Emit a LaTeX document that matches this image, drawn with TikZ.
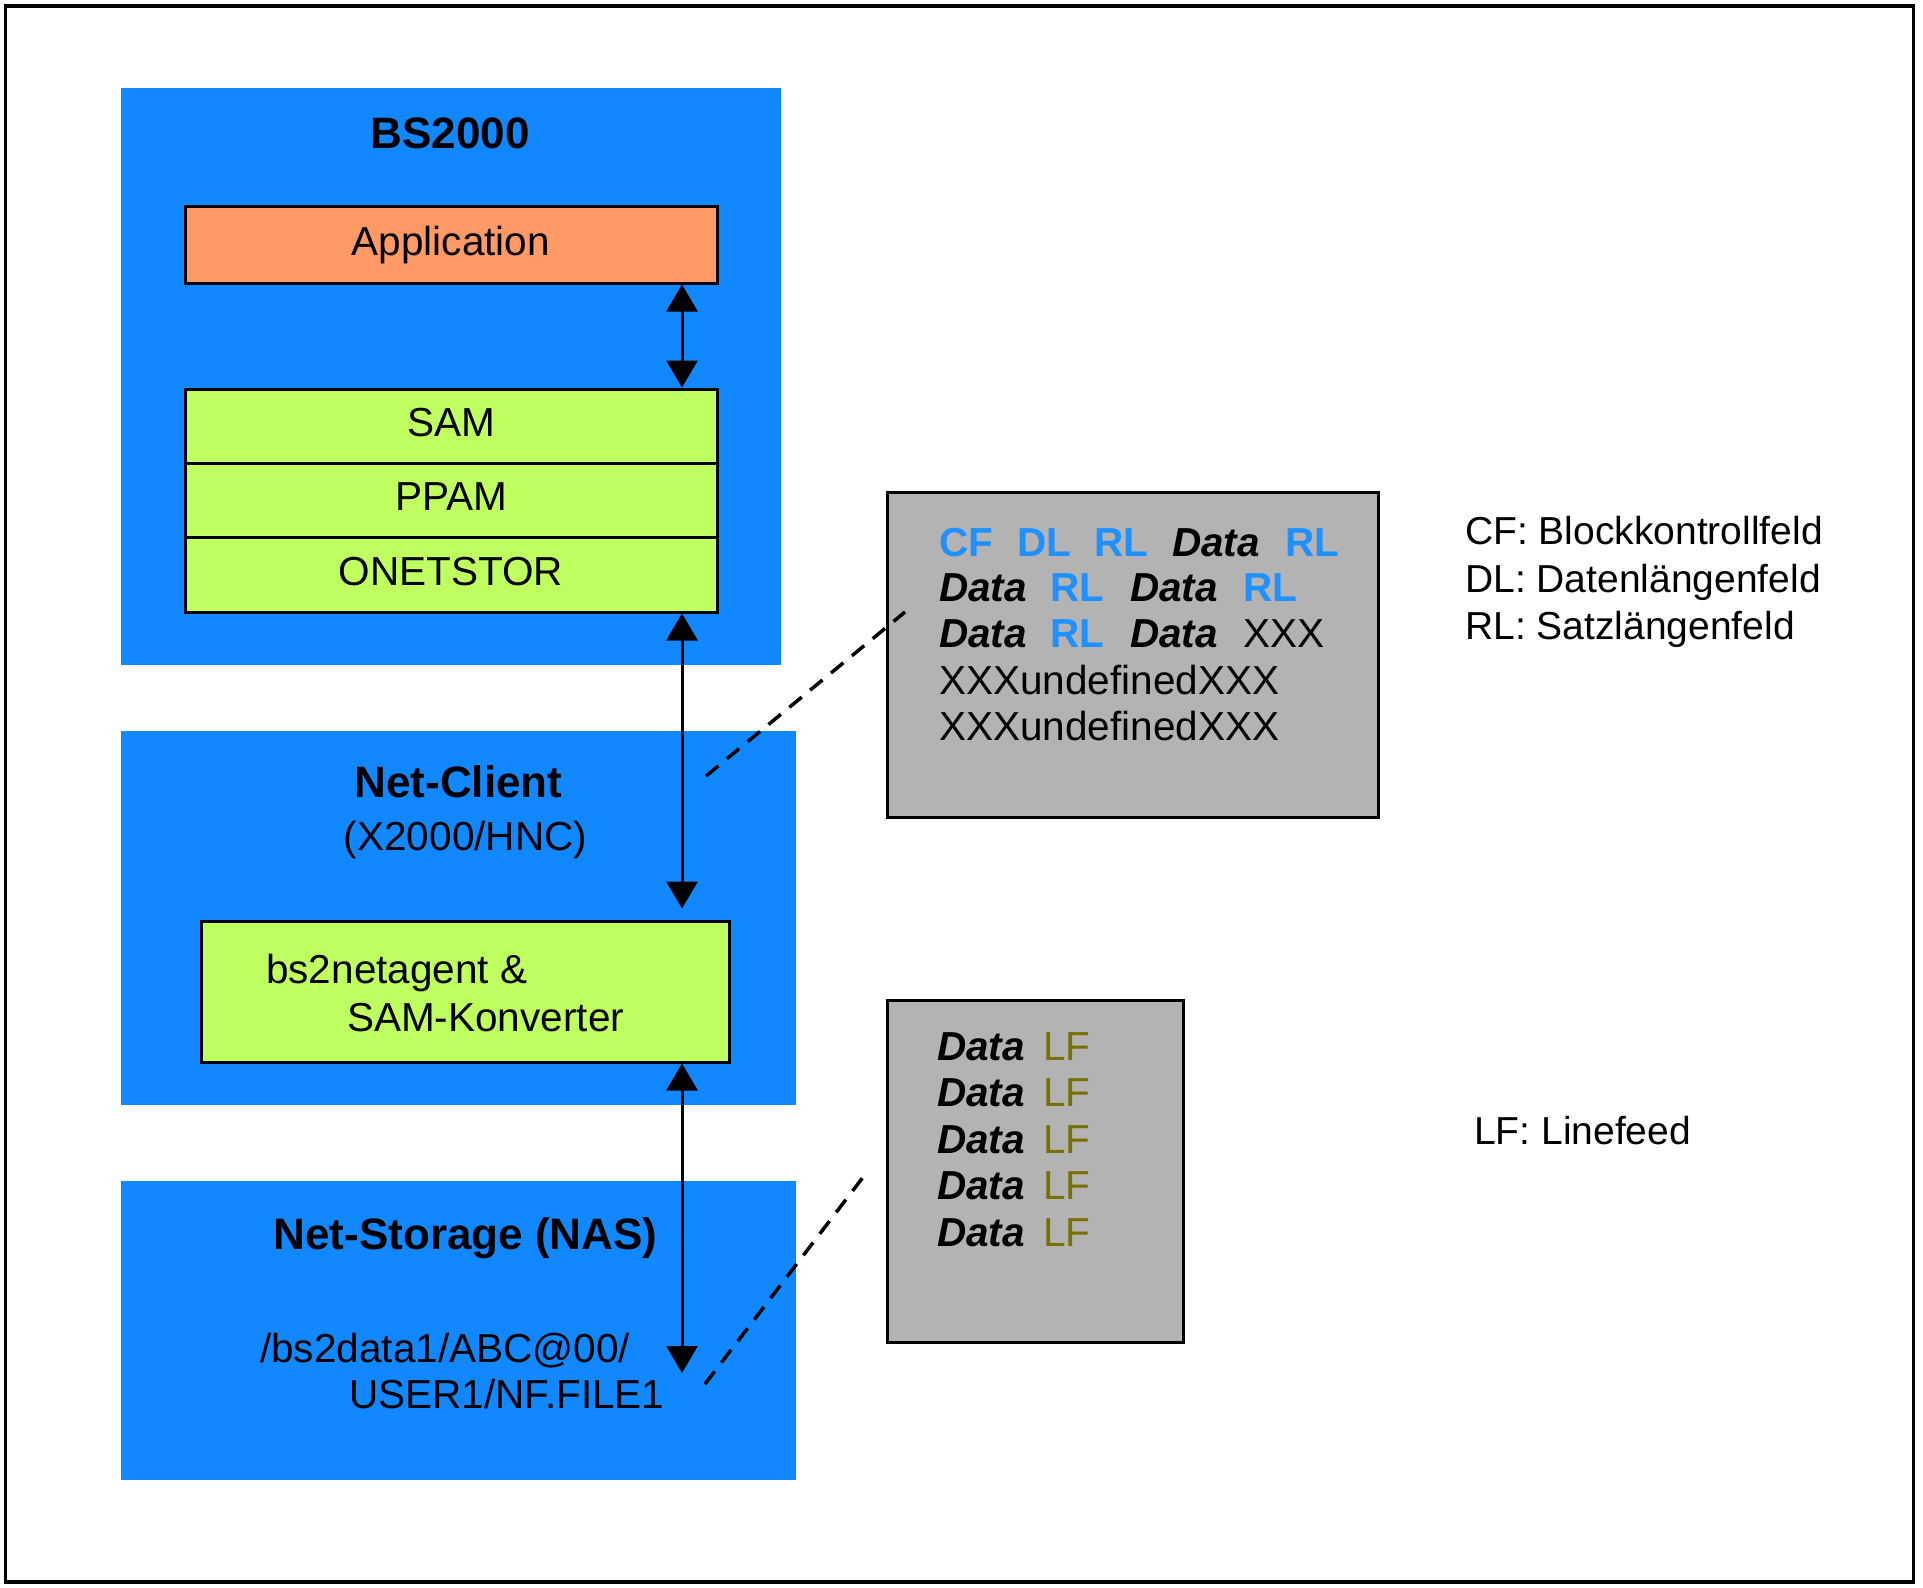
\documentclass[tikz,border=0pt]{standalone}
\usepackage{fontspec}
\setmainfont{Liberation Sans}
\usetikzlibrary{arrows.meta}
\definecolor{sysblue}{RGB}{17,136,255}
\definecolor{txtblue}{RGB}{30,144,255}
\definecolor{apporange}{RGB}{255,153,102}
\definecolor{layergreen}{RGB}{192,255,96}
\definecolor{datagray}{RGB}{179,179,179}
\definecolor{lfolive}{RGB}{120,112,0}
\newcommand\regfont{\fontsize{40.5}{46}\selectfont}
\newcommand\legfont{\fontsize{39}{46}\selectfont}
\newcommand\titlefont{\fontsize{44}{48}\selectfont\bfseries}
\newcommand\dataword{\textbf{\textit{Data}}}
\newcommand\bluew[1]{\textcolor{txtblue}{\textbf{#1}}}
\newcommand\lfword{\textcolor{lfolive}{LF}}
\newcommand\wbox[2]{\makebox[#1pt][l]{#2}}
\begin{document}
\begin{tikzpicture}[x=1pt,y=-1pt,
  sysbox/.style={fill=sysblue, draw=none, inner sep=0pt},
  layer/.style={draw=black, line width=3pt, fill=layergreen, minimum width=532pt, inner sep=0pt, font=\regfont, text height=29pt, text depth=8pt},
  graybox/.style={draw=black, line width=3pt, fill=datagray, inner sep=0pt},
  conn/.style={line width=3pt, {Triangle[length=27pt,width=31pt]}-{Triangle[length=27pt,width=31pt]}},
  dashline/.style={line width=3.5pt, dash pattern=on 16pt off 11pt},
  txt/.style={font=\regfont, inner sep=0pt, anchor=base west},
  legend/.style={font=\legfont, inner sep=0pt, anchor=base west},
  title/.style={font=\titlefont, inner sep=0pt, anchor=base}]
\useasboundingbox (0,0) rectangle (1923,1588);
\node[draw, line width=3.5pt, minimum width=1908pt, minimum height=1576pt, inner sep=0pt] (frame) at (959.5,794) {};
% BS2000
\node[sysbox, minimum width=660pt, minimum height=577pt] (bs) at (451,376.5) {};
\node[title] (bstitle) at (450,148) {BS2000};
\node[layer, fill=apporange, minimum height=77pt] (app) at (451,244.5) {Application};
\node[layer, minimum height=74pt] (sam) at (451,426) {SAM};
\node[layer, minimum height=74pt] (ppam) at (451,500) {PPAM};
\node[layer, minimum height=75pt] (onet) at (451,574.5) {ONETSTOR};
% Net-Client
\node[sysbox, minimum width=675pt, minimum height=374pt] (client) at (458.5,918) {};
\node[title] (clienttitle) at (458.5,797) {Net-Client};
\node[txt, anchor=base] (clientsub) at (465.5,850) {(X2000/HNC)};
\node[layer, minimum width=528pt, minimum height=141pt] (agent) at (465,991.5) {};
\node[txt] (agent1) at (266,983) {bs2netagent \&};
\node[txt] (agent2) at (347,1031) {SAM-Konverter};
% Net-Storage
\node[sysbox, minimum width=675pt, minimum height=299pt] (nas) at (458.5,1330.5) {};
\node[title] (nastitle) at (465.5,1249) {Net-Storage (NAS)};
\node[txt] (path1) at (260,1362) {/bs2data1/ABC@00/};
\node[txt] (path2) at (349,1408) {USER1/NF.FILE1};
% gray boxes
\node[graybox, minimum width=491pt, minimum height=325pt] (samfmt) at (1132.5,654.5) {};
\node[graybox, minimum width=296pt, minimum height=342pt] (lffmt) at (1035,1171) {};
\node[txt] (r1) at (939,556) {\wbox{78}{\bluew{CF}}\wbox{77}{\bluew{DL}}\wbox{78}{\bluew{RL}}\wbox{113}{\dataword}\bluew{RL}};
\node[txt] (r2) at (939,601) {\wbox{111}{\dataword}\wbox{80}{\bluew{RL}}\wbox{113}{\dataword}\bluew{RL}};
\node[txt] (r3) at (939,647) {\wbox{111}{\dataword}\wbox{80}{\bluew{RL}}\wbox{113}{\dataword}XXX};
\node[txt] (r4) at (939,694) {XXXundefinedXXX};
\node[txt] (r5) at (939,740) {XXXundefinedXXX};
\foreach \i/\yy in {1/1060,2/1106.5,3/1153,4/1199.5,5/1246}
  \node[txt] (lf\i) at (937,\yy) {\wbox{106}{\dataword}\lfword};
% legends
\node[legend] (leg1) at (1465,544) {CF: Blockkontrollfeld};
\node[legend] (leg2) at (1465,592) {DL: Datenlängenfeld};
\node[legend] (leg3) at (1465,639) {RL: Satzlängenfeld};
\node[legend] (leg4) at (1474,1144) {LF: Linefeed};
% connectors
\coordinate (ax) at (682,0);
\draw[conn] (app.south -| ax) -- (sam.north -| ax);
\draw[conn, shorten >=11pt] (onet.south -| ax) -- (agent.north -| ax);
\coordinate (nasend) at (682,1373);
\draw[conn] (agent.south -| ax) -- (nasend);
% dashed
\coordinate (d1a) at (706,776);
\coordinate (d1b) at (905,612);
\draw[dashline] (d1a) -- (d1b);
\coordinate (d2a) at (705,1384);
\coordinate (d2b) at (867,1172);
\draw[dashline] (d2a) -- (d2b);
\end{tikzpicture}
\end{document}
